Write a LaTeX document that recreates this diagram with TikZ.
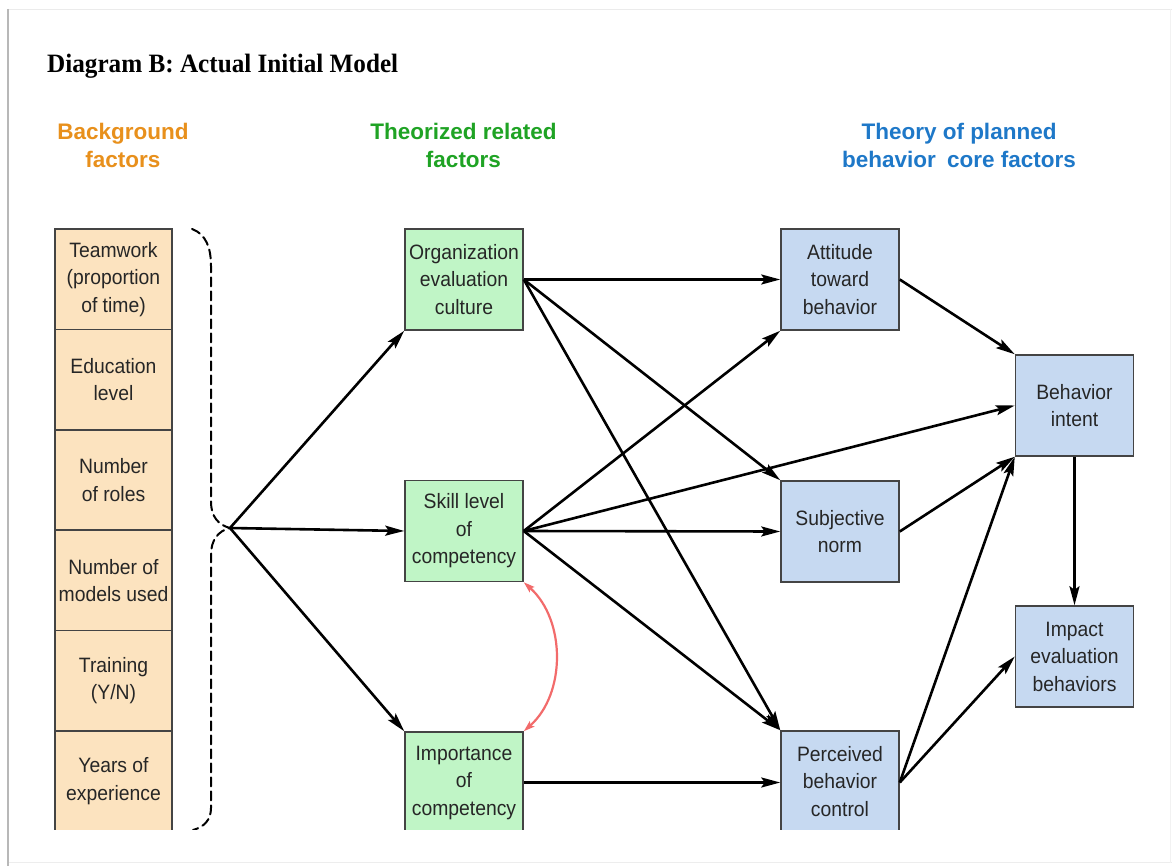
\documentclass[tikz,border=0pt]{standalone}
\usepackage{fontspec}
\setmainfont{Liberation Sans}
\newfontfamily\boxfont{Liberation Sans}[FakeStretch=0.93]
\newfontfamily\titlefont{Liberation Serif}[FakeStretch=0.95]
\usetikzlibrary{arrows.meta}

\definecolor{hdorange}{HTML}{E8901C}
\definecolor{hdgreen}{HTML}{1FA324}
\definecolor{hdblue}{HTML}{1E78C8}
\definecolor{peach}{HTML}{FCE3BF}
\definecolor{mint}{HTML}{C0F5C6}
\definecolor{paleblue}{HTML}{C6D9F1}
\definecolor{boxline}{HTML}{444444}
\definecolor{textgray}{HTML}{262626}
\definecolor{linkred}{HTML}{F26B6B}

\tikzset{
  factorbox/.style={draw=boxline, line width=1.5pt, inner sep=0pt, align=center,
    text=textgray, font=\boxfont\fontsize{20.8}{27.5}\selectfont},
  bgcell/.style={factorbox, fill=peach, minimum width=117pt, minimum height=100.4pt},
  thbox/.style={factorbox, fill=mint, minimum width=118pt, minimum height=101pt},
  tpbbox/.style={factorbox, fill=paleblue, minimum width=118pt, minimum height=101pt},
  header/.style={align=center, font=\bfseries\fontsize{22.5}{28}\selectfont},
  arr/.style={line width=2.6pt, -{Stealth[length=19pt,width=10pt,inset=3.5pt]}},
  linkarr/.style={draw=linkred, line width=2.2pt,
    {Stealth[length=11pt,width=7pt,inset=2pt]}-{Stealth[length=11pt,width=7pt,inset=2pt]}},
  bracket/.style={line width=2pt, dash pattern=on 9pt off 5pt, line cap=round}
}

\begin{document}
\begin{tikzpicture}[x=1pt, y=-1pt]
  \useasboundingbox (0,0) rectangle (1172,866);

  % page frame
  \draw[draw=black!8, line width=1.5pt] (7,9.5) -- (1172,9.5);
  \draw[draw=black!7, line width=1.2pt] (7,862.5) -- (1172,862.5);
  \draw[draw=black!5, line width=1.2pt] (1170.5,9.5) -- (1170.5,862.5);
  \draw[draw=black!28, line width=2pt] (7.5,9) -- (7.5,866);

  % title and column headers
  \node[anchor=base west, inner sep=0pt, font=\titlefont\bfseries\fontsize{26.5}{30}\selectfont]
    (title) at (47,73) {Diagram B: Actual Initial Model};
  \node[header, text=hdorange] (hbg) at (123,145) {Background\\factors};
  \node[header, text=hdgreen] (hth) at (463.5,145) {Theorized related\\factors};
  \node[header, text=hdblue] (htpb) at (959,145) {Theory of planned\\behavior\hspace{5pt} core factors};

  \begin{scope}
    \clip (0,0) rectangle (1172,829.5);

    % background factors column
    \node[bgcell] (c1) at (113.5,279.2) {Teamwork\\(proportion\\of time)};
    \node[bgcell] (c2) at (113.5,379.6) {Education\\level};
    \node[bgcell] (c3) at (113.5,480.0) {Number\\of roles};
    \node[bgcell] (c4) at (113.5,580.4) {Number of\\models used};
    \node[bgcell] (c5) at (113.5,680.8) {Training\\(Y/N)};
    \node[bgcell] (c6) at (113.5,781.2) {Years of\\experience};

    % dashed bracket grouping the background factors
    \coordinate (tip) at (230,528);
    \draw[bracket] (192,229) .. controls (206,234) and (211,248) .. (211,266)
      -- (211,502) .. controls (211,516) and (218,525) .. (tip)
      .. controls (218,531) and (211,540) .. (211,555)
      -- (211,808) .. controls (211,820) and (204,827) .. (193,830);

    % theorized related factors
    \node[thbox] (org) at (464,279.5) {Organization\\evaluation\\culture};
    \node[thbox] (skill) at (464,531) {Skill level\\of\\competency};
    \node[thbox] (imp) at (464,782.5) {Importance\\of\\competency};

    % theory of planned behavior core factors
    \node[tpbbox] (att) at (840,279.5) {Attitude\\toward\\behavior};
    \node[tpbbox] (sub) at (840,531.5) {Subjective\\norm};
    \node[tpbbox] (perc) at (840,781.5) {Perceived\\behavior\\control};
    \node[tpbbox] (intent) at (1074.5,405.5) {Behavior\\intent};
    \node[tpbbox] (impact) at (1074.5,656.5) {Impact\\evaluation\\behaviors};

    % background factors to theorized factors
    \draw[arr] (tip) -- (org.south west);
    \draw[arr] (tip) -- (skill.west);
    \draw[arr] (tip) -- (imp.north west);

    % organization evaluation culture
    \draw[arr] (org.east) -- (att.west);
    \draw[arr] (org.east) -- (sub.north west);
    \draw[arr] (org.east) -- (perc.north west);

    % skill level of competency
    \draw[arr] (skill.east) -- (att.south west);
    \draw[arr] (skill.east) -- (intent.west);
    \draw[arr] (skill.east) -- (sub.west);
    \draw[arr] (skill.east) -- (perc.north west);

    % importance of competency
    \draw[arr] (imp.east) -- (perc.west |- imp.east);

    % core factors to intent and behaviors
    \draw[arr] (att.east) -- (intent.north west);
    \draw[arr] (sub.east) -- (intent.south west);
    \draw[arr] (perc.east |- imp.east) -- (intent.south west);
    \draw[arr] (perc.east |- imp.east) -- (impact.west);
    \draw[arr] (intent.south) -- (impact.north);

    % correlation between the two competency factors
    \draw[linkarr] (skill.south east) .. controls (566,620) and (566,694) .. (imp.north east);
  \end{scope}
\end{tikzpicture}
\end{document}
